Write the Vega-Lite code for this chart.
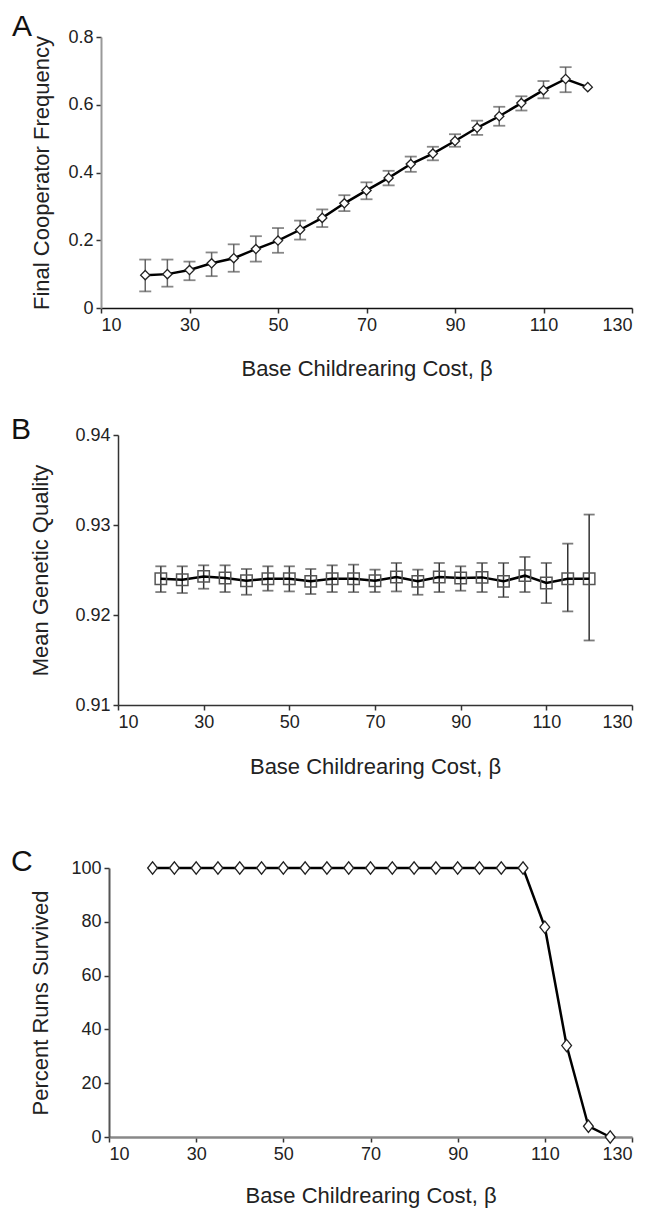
{
  "$schema": "https://vega.github.io/schema/vega-lite/v6.json",
  "background": "white",
  "padding": {"left": 10, "top": 12, "right": 2, "bottom": 5},
  "config": {
    "view": {"stroke": null},
    "font": "Liberation Sans",
    "axis": {
      "labelFont": "Liberation Sans", "labelFontSize": 18, "labelColor": "#222",
      "titleFont": "Liberation Sans", "titleFontSize": 22, "titleFontWeight": "normal", "titleColor": "#222",
      "domainColor": "#333", "domainWidth": 1.5, "tickColor": "#333", "tickWidth": 1.5, "tickSize": 5,
      "labelPadding": 3, "grid": false
    },
    "title": {"font": "Liberation Sans", "fontSize": 30, "fontWeight": "normal", "color": "#111", "anchor": "start", "frame": "bounds"}
  },
  "datasets": {
    "a": [
      {"x": 20, "m": 0.097, "lo": 0.049, "hi": 0.143},
      {"x": 25, "m": 0.100, "lo": 0.063, "hi": 0.143},
      {"x": 30, "m": 0.112, "lo": 0.082, "hi": 0.137},
      {"x": 35, "m": 0.132, "lo": 0.094, "hi": 0.164},
      {"x": 40, "m": 0.147, "lo": 0.107, "hi": 0.188},
      {"x": 45, "m": 0.174, "lo": 0.137, "hi": 0.212},
      {"x": 50, "m": 0.199, "lo": 0.163, "hi": 0.236},
      {"x": 55, "m": 0.231, "lo": 0.202, "hi": 0.258},
      {"x": 60, "m": 0.266, "lo": 0.239, "hi": 0.291},
      {"x": 65, "m": 0.309, "lo": 0.286, "hi": 0.333},
      {"x": 70, "m": 0.347, "lo": 0.321, "hi": 0.371},
      {"x": 75, "m": 0.384, "lo": 0.362, "hi": 0.405},
      {"x": 80, "m": 0.425, "lo": 0.402, "hi": 0.447},
      {"x": 85, "m": 0.456, "lo": 0.436, "hi": 0.476},
      {"x": 90, "m": 0.493, "lo": 0.476, "hi": 0.513},
      {"x": 95, "m": 0.532, "lo": 0.511, "hi": 0.553},
      {"x": 100, "m": 0.566, "lo": 0.538, "hi": 0.594},
      {"x": 105, "m": 0.605, "lo": 0.583, "hi": 0.625},
      {"x": 110, "m": 0.643, "lo": 0.619, "hi": 0.670},
      {"x": 115, "m": 0.676, "lo": 0.637, "hi": 0.711},
      {"x": 120, "m": 0.652, "lo": null, "hi": null}
    ],
    "b": [
      {"x": 20, "m": 0.92403, "lo": 0.92255, "hi": 0.92541},
      {"x": 25, "m": 0.92392, "lo": 0.92244, "hi": 0.92541},
      {"x": 30, "m": 0.92429, "lo": 0.92292, "hi": 0.92552},
      {"x": 35, "m": 0.92411, "lo": 0.92255, "hi": 0.92552},
      {"x": 40, "m": 0.92381, "lo": 0.92225, "hi": 0.92511},
      {"x": 45, "m": 0.92403, "lo": 0.9227, "hi": 0.92541},
      {"x": 50, "m": 0.92403, "lo": 0.92262, "hi": 0.92541},
      {"x": 55, "m": 0.92374, "lo": 0.92233, "hi": 0.92511},
      {"x": 60, "m": 0.92403, "lo": 0.92255, "hi": 0.92552},
      {"x": 65, "m": 0.92403, "lo": 0.92255, "hi": 0.92559},
      {"x": 70, "m": 0.92381, "lo": 0.92255, "hi": 0.92504},
      {"x": 75, "m": 0.92422, "lo": 0.92262, "hi": 0.92578},
      {"x": 80, "m": 0.92374, "lo": 0.92225, "hi": 0.92504},
      {"x": 85, "m": 0.92422, "lo": 0.92255, "hi": 0.92578},
      {"x": 90, "m": 0.92411, "lo": 0.9227, "hi": 0.92541},
      {"x": 95, "m": 0.92418, "lo": 0.92255, "hi": 0.92578},
      {"x": 100, "m": 0.92374, "lo": 0.92199, "hi": 0.92578},
      {"x": 105, "m": 0.92437, "lo": 0.92255, "hi": 0.92645},
      {"x": 110, "m": 0.92355, "lo": 0.92132, "hi": 0.92578},
      {"x": 115, "m": 0.92403, "lo": 0.9204, "hi": 0.92793},
      {"x": 120, "m": 0.92403, "lo": 0.91717, "hi": 0.93116}
    ],
    "c": [
      {"x": 20, "m": 100}, {"x": 25, "m": 100}, {"x": 30, "m": 100}, {"x": 35, "m": 100},
      {"x": 40, "m": 100}, {"x": 45, "m": 100}, {"x": 50, "m": 100}, {"x": 55, "m": 100},
      {"x": 60, "m": 100}, {"x": 65, "m": 100}, {"x": 70, "m": 100}, {"x": 75, "m": 100},
      {"x": 80, "m": 100}, {"x": 85, "m": 100}, {"x": 90, "m": 100}, {"x": 95, "m": 100},
      {"x": 100, "m": 100}, {"x": 105, "m": 100}, {"x": 110, "m": 78}, {"x": 115, "m": 34},
      {"x": 120, "m": 4}, {"x": 125, "m": 0}
    ]
  },
  "vconcat": [
    {
      "title": {"text": "A", "dx": -19, "dy": 18},
      "width": 531, "height": 271,
      "data": {"name": "a"},
      "encoding": {
        "x": {"field": "x", "type": "quantitative", "scale": {"domain": [10, 130], "nice": false},
              "axis": {"values": [10, 30, 50, 70, 90, 110, 130], "title": "Base Childrearing Cost, β", "titlePadding": 24, "domainColor": "#111"}}
      },
      "layer": [
        {"mark": {"type": "rule", "color": "#666", "strokeWidth": 1.5},
         "encoding": {"y": {"field": "lo", "type": "quantitative", "scale": {"domain": [0, 0.8], "nice": false, "zero": false}}, "y2": {"field": "hi"}}},
        {"mark": {"type": "tick", "orient": "horizontal", "color": "#555", "size": 12, "thickness": 1.8},
         "encoding": {"y": {"field": "lo", "type": "quantitative", "scale": {"domain": [0, 0.8], "nice": false, "zero": false}}}},
        {"mark": {"type": "tick", "orient": "horizontal", "color": "#555", "size": 12, "thickness": 1.8},
         "encoding": {"y": {"field": "hi", "type": "quantitative", "scale": {"domain": [0, 0.8], "nice": false, "zero": false}}}},
        {"mark": {"type": "line", "color": "#000", "strokeWidth": 2.5},
         "encoding": {"y": {"field": "m", "type": "quantitative", "scale": {"domain": [0, 0.8], "nice": false, "zero": false},
           "axis": {"values": [0, 0.2, 0.4, 0.6, 0.8], "format": "~g", "title": "Final Cooperator Frequency", "titlePadding": 14, "domainColor": "#999", "domainWidth": 2}}}},
        {"mark": {"type": "point", "shape": "diamond", "filled": true, "fill": "white", "stroke": "#222", "strokeWidth": 1.3, "size": 85, "opacity": 1},
         "encoding": {"y": {"field": "m", "type": "quantitative", "scale": {"domain": [0, 0.8], "nice": false, "zero": false}}}}
      ]
    },
    {
      "spacing": 70,
      "vconcat": [
        {
          "title": {"text": "B", "dx": -19, "dy": 23},
          "width": 531, "height": 270,
          "data": {"name": "b"},
          "encoding": {
            "x": {"field": "x", "type": "quantitative", "scale": {"domain": [10, 130], "nice": false, "range": [17, 531]},
                  "axis": {"values": [10, 30, 50, 70, 90, 110, 130], "title": "Base Childrearing Cost, β", "titlePadding": 25}}
          },
          "layer": [
            {"mark": {"type": "rule", "color": "#333", "strokeWidth": 1.5},
             "encoding": {"y": {"field": "lo", "type": "quantitative", "scale": {"domain": [0.91, 0.94], "nice": false, "zero": false}}, "y2": {"field": "hi"}}},
            {"mark": {"type": "tick", "orient": "horizontal", "color": "#444", "size": 11, "thickness": 1.8},
             "encoding": {"y": {"field": "lo", "type": "quantitative", "scale": {"domain": [0.91, 0.94], "nice": false, "zero": false}}}},
            {"mark": {"type": "tick", "orient": "horizontal", "color": "#444", "size": 11, "thickness": 1.8},
             "encoding": {"y": {"field": "hi", "type": "quantitative", "scale": {"domain": [0.91, 0.94], "nice": false, "zero": false}}}},
            {"mark": {"type": "line", "color": "#000", "strokeWidth": 2.5},
             "encoding": {"y": {"field": "m", "type": "quantitative", "scale": {"domain": [0.91, 0.94], "nice": false, "zero": false},
               "axis": {"values": [0.91, 0.92, 0.93, 0.94], "format": ".2f", "title": "Mean Genetic Quality", "titlePadding": 22, "offset": -17}}}},
            {"mark": {"type": "point", "shape": "square", "filled": false, "stroke": "#555", "strokeWidth": 1.5, "size": 130, "opacity": 1},
             "encoding": {"y": {"field": "m", "type": "quantitative", "scale": {"domain": [0.91, 0.94], "nice": false, "zero": false}}}}
          ]
        },
        {
          "title": {"text": "C", "dx": -19, "dy": 22},
          "width": 531, "height": 269,
          "data": {"name": "c"},
          "encoding": {
            "x": {"field": "x", "type": "quantitative", "scale": {"domain": [10, 130], "nice": false, "range": [8, 531]},
                  "axis": {"values": [10, 30, 50, 70, 90, 110, 130], "title": "Base Childrearing Cost, β", "titlePadding": 22, "domainColor": "#888", "domainWidth": 2.5}}
          },
          "layer": [
            {"mark": {"type": "line", "color": "#000", "strokeWidth": 2.5},
             "encoding": {"y": {"field": "m", "type": "quantitative", "scale": {"domain": [0, 100], "nice": false},
               "axis": {"values": [0, 20, 40, 60, 80, 100], "title": "Percent Runs Survived", "titlePadding": 18, "domainColor": "#555", "domainWidth": 2, "offset": -8}}}},
            {"mark": {"type": "point", "shape": "M-0.8,0L0,-1L0.8,0L0,1Z", "filled": true, "fill": "white", "stroke": "#222", "strokeWidth": 1.3, "size": 150, "opacity": 1},
             "encoding": {"y": {"field": "m", "type": "quantitative"}}}
          ]
        }
      ]
    }
  ],
  "spacing": 36
}
